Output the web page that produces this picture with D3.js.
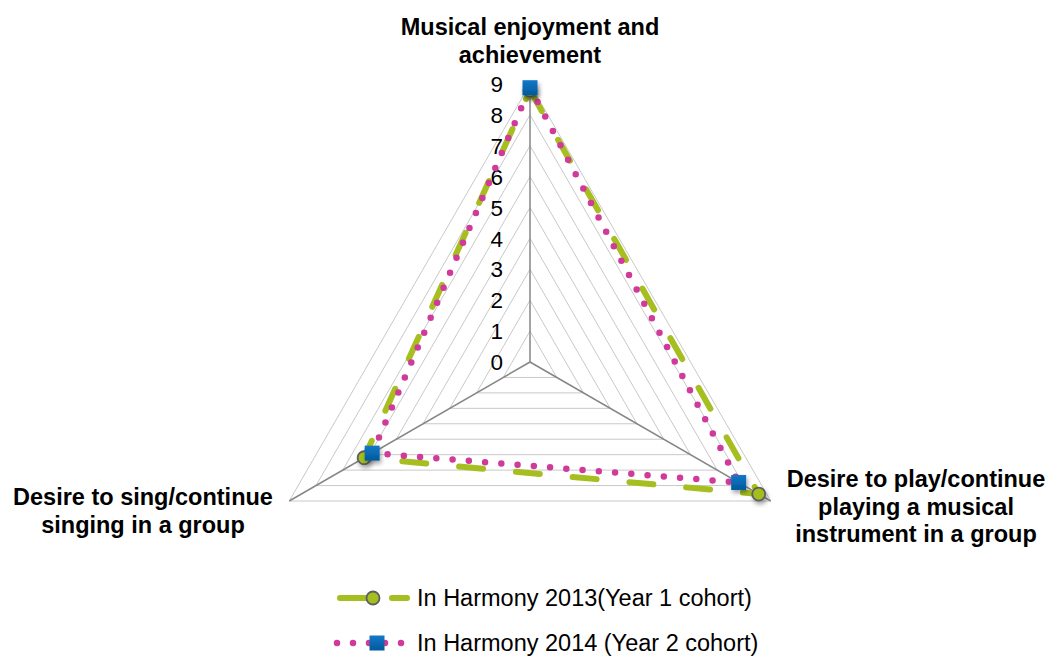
<!DOCTYPE html>
<html>
<head>
<meta charset="utf-8">
<script src="https://cdn.jsdelivr.net/npm/d3@7"></script>
<style>
  body { margin: 0; background: #fff; }
  svg { display: block; font-family: Arial, "Liberation Sans", sans-serif; }
</style>
</head>
<body>
<svg id="chart" width="1050" height="658"></svg>
<script>
// chart data
var categories = [
  ["Musical enjoyment and", "achievement"],
  ["Desire to play/continue", "playing a musical", "instrument in a group"],
  ["Desire to sing/continue", "singing in a group"]
];
var seriesNames = ["In Harmony 2013(Year 1 cohort)", "In Harmony 2014 (Year 2 cohort)"];
var values2013 = [8.8, 8.55, 6.2];
var values2014 = [8.88, 7.8, 5.9];
var tickValues = [0, 1, 2, 3, 4, 5, 6, 7, 8, 9];

var svg = d3.select("#chart");
var cx = 530, cy = 362;
var green = "#A6BE1F", magenta = "#CF3A9B";

var r = d3.scaleLinear().domain([0, 9]).range([0, 278]);
// angle for each category, clockwise from the top
var angle = d3.scaleOrdinal().domain([0, 1, 2]).range([-90, 30, 150].map(a => a * Math.PI / 180));

function pt(i, v) {
  return [cx + r(v) * Math.cos(angle(i)), cy + r(v) * Math.sin(angle(i))];
}

// drop shadow for markers
var defs = svg.append("defs");
var f = defs.append("filter").attr("id", "shadow").attr("x", "-50%").attr("y", "-50%").attr("width", "200%").attr("height", "200%");
f.append("feDropShadow").attr("dx", 1.5).attr("dy", 3).attr("stdDeviation", 2).attr("flood-color", "#000").attr("flood-opacity", 0.35);
var grad = defs.append("linearGradient").attr("id", "blueGrad").attr("x1", 0).attr("y1", 0).attr("x2", 0).attr("y2", 1);
grad.append("stop").attr("offset", "0%").attr("stop-color", "#1478C8");
grad.append("stop").attr("offset", "100%").attr("stop-color", "#005A9C");

// grid triangles
var g = svg.append("g");
tickValues.slice(1).forEach(function(t) {
  g.append("path")
    .attr("d", d3.line()([0, 1, 2].map(i => pt(i, t))) + "Z")
    .attr("fill", "none")
    .attr("stroke", "#C9C9C9")
    .attr("stroke-width", 1);
});

// axes from centre
[0, 1, 2].forEach(function(i) {
  var p = pt(i, 9);
  g.append("line")
    .attr("x1", cx).attr("y1", cy)
    .attr("x2", p[0]).attr("y2", p[1])
    .attr("stroke", "#868686")
    .attr("stroke-width", 1.5);
});

// tick labels
g.selectAll("text.tick")
  .data(tickValues)
  .enter().append("text")
  .attr("class", "tick")
  .attr("x", 503)
  .attr("y", d => cy - r(d))
  .attr("dy", "0.36em")
  .attr("text-anchor", "end")
  .style("font-size", "22.5px")
  .attr("fill", "#000")
  .text(d => d);

// category labels
var labelPos = [
  { x: 530, y: 35, anchor: "middle" },
  { x: 916, y: 487, anchor: "middle" },
  { x: 143, y: 505, anchor: "middle" }
];
categories.forEach(function(lines, i) {
  var t = svg.append("text")
    .attr("x", labelPos[i].x)
    .attr("y", labelPos[i].y)
    .attr("text-anchor", labelPos[i].anchor)
    .style("font-size", "23.5px")
    .style("font-weight", "bold")
    .attr("fill", "#000");
  lines.forEach(function(l, j) {
    t.append("tspan").attr("x", labelPos[i].x).attr("dy", j == 0 ? 0 : 27.5).text(l);
  });
});

// series lines
var radarLine = d3.line().curve(d3.curveLinearClosed);
svg.append("path")
  .attr("d", radarLine(values2013.map((v, i) => pt(i, v))))
  .attr("fill", "none")
  .attr("stroke", green)
  .attr("stroke-width", 6)
  .attr("stroke-linecap", "round")
  .attr("stroke-dasharray", "24 33");
svg.append("path")
  .attr("d", radarLine(values2014.map((v, i) => pt(i, v))))
  .attr("fill", "none")
  .attr("stroke", magenta)
  .attr("stroke-width", 6.5)
  .attr("stroke-linecap", "round")
  .attr("stroke-dasharray", "0 16.3");

// markers
svg.selectAll("circle.m13")
  .data(values2013)
  .enter().append("circle")
  .attr("class", "m13")
  .attr("cx", (d, i) => pt(i, d)[0])
  .attr("cy", (d, i) => pt(i, d)[1])
  .attr("r", 6.5)
  .attr("fill", green)
  .attr("stroke", "#5F5F5F")
  .attr("stroke-width", 1.8)
  .attr("filter", "url(#shadow)");
svg.selectAll("rect.m14")
  .data(values2014)
  .enter().append("rect")
  .attr("class", "m14")
  .attr("x", (d, i) => pt(i, d)[0] - 7.5)
  .attr("y", (d, i) => pt(i, d)[1] - 7.5)
  .attr("width", 15)
  .attr("height", 15)
  .attr("fill", "url(#blueGrad)")
  .attr("filter", "url(#shadow)");

// legend
var leg = svg.append("g");
var rowY = [598, 643];
// row 1
leg.append("line")
  .attr("x1", 340).attr("x2", 407)
  .attr("y1", rowY[0]).attr("y2", rowY[0])
  .attr("stroke", green).attr("stroke-width", 6)
  .attr("stroke-linecap", "round")
  .attr("stroke-dasharray", "33 19");
leg.append("circle")
  .attr("cx", 373).attr("cy", rowY[0]).attr("r", 6.5)
  .attr("fill", green).attr("stroke", "#5F5F5F").attr("stroke-width", 1.8);
// row 2
leg.append("line")
  .attr("x1", 337).attr("x2", 410)
  .attr("y1", rowY[1]).attr("y2", rowY[1])
  .attr("stroke", magenta).attr("stroke-width", 6.5)
  .attr("stroke-linecap", "round")
  .attr("stroke-dasharray", "0 16");
leg.append("rect")
  .attr("x", 377 - 7.5).attr("y", rowY[1] - 7.5)
  .attr("width", 15).attr("height", 15)
  .attr("fill", "url(#blueGrad)");
leg.selectAll("text")
  .data(seriesNames)
  .enter().append("text")
  .attr("x", 417)
  .attr("y", (d, i) => rowY[i])
  .attr("dy", "0.36em")
  .style("font-size", "23.5px")
  .attr("fill", "#000")
  .text(d => d);
</script>
</body>
</html>
